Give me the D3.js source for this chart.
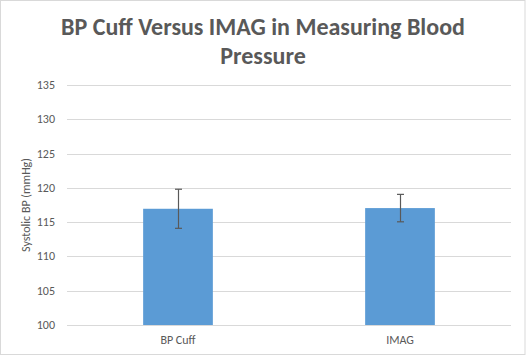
<!DOCTYPE html>
<html><head><meta charset="utf-8">
<script src="https://cdn.jsdelivr.net/npm/d3@7"></script>
<style>body{margin:0;background:#fff;} svg{display:block;}</style>
</head><body>
<script>
const categories = ["BP Cuff", "IMAG"];
const values = [116.95, 117.05];
const errors = [2.85, 2.0];
const yTicks = [100, 105, 110, 115, 120, 125, 130, 135];
const titleLines = ["BP Cuff Versus IMAG in Measuring Blood", "Pressure"];
const yLabel = "Systolic BP (mmHg)";

const W = 526, H = 356;
const m = {left: 67, right: 15, top: 85, bottom: 31};
const svg = d3.select("body").append("svg").attr("width", W).attr("height", H);
svg.append("rect").attr("x", 0.5).attr("y", 0.5).attr("width", W - 1.5).attr("height", H - 2)
  .attr("fill", "#fff").attr("stroke", "#d9d9d9");

const x = d3.scaleBand().domain(categories).range([m.left, W - m.right]).paddingInner(0.686).paddingOuter(0.343);
const y = d3.scaleLinear().domain([100, 135]).range([H - m.bottom, m.top]);

const font = "Calibri, Carlito, 'Open Sans', sans-serif";

svg.append("g").selectAll("line").data(yTicks).join("line")
  .attr("x1", m.left).attr("x2", W - m.right)
  .attr("y1", d => Math.round(y(d)) + 0.5).attr("y2", d => Math.round(y(d)) + 0.5)
  .attr("stroke", "#d9d9d9").attr("stroke-width", 1);

svg.append("g").selectAll("text").data(yTicks).join("text")
  .attr("x", 55).attr("y", d => y(d) + 4).attr("text-anchor", "end")
  .attr("font-family", font).attr("font-size", 12).attr("fill", "#595959").text(d => d);

svg.append("g").selectAll("rect").data(categories).join("rect")
  .attr("x", d => x(d)).attr("width", x.bandwidth())
  .attr("y", (d, i) => y(values[i])).attr("height", (d, i) => y(100) - y(values[i]))
  .attr("fill", "#5b9bd5");

const eg = svg.append("g").attr("stroke", "#595959").attr("stroke-width", 1.2);
categories.forEach((c, i) => {
  const cx = Math.round(x(c) + x.bandwidth() / 2) + 0.5;
  const t = y(values[i] + errors[i]), b = y(values[i] - errors[i]);
  eg.append("line").attr("x1", cx).attr("x2", cx).attr("y1", t).attr("y2", b);
  eg.append("line").attr("x1", cx - 3.5).attr("x2", cx + 3.5).attr("y1", t).attr("y2", t);
  eg.append("line").attr("x1", cx - 3.5).attr("x2", cx + 3.5).attr("y1", b).attr("y2", b);
});

svg.append("g").selectAll("text").data(categories).join("text")
  .attr("x", d => x(d) + x.bandwidth() / 2).attr("y", H - 12).attr("text-anchor", "middle")
  .attr("font-family", font).attr("font-size", 12).attr("fill", "#595959").text(d => d);

svg.append("text").attr("transform", `translate(30,${(m.top + H - m.bottom) / 2}) rotate(-90)`)
  .attr("text-anchor", "middle").attr("font-family", font).attr("font-size", 12).attr("fill", "#595959")
  .text(yLabel);

svg.append("g").selectAll("text").data(titleLines).join("text")
  .attr("x", W / 2).attr("y", (d, i) => 35 + i * 29).attr("text-anchor", "middle")
  .attr("font-family", font).attr("font-size", 24).attr("font-weight", "bold").attr("fill", "#595959")
  .text(d => d);
</script>
</body></html>
